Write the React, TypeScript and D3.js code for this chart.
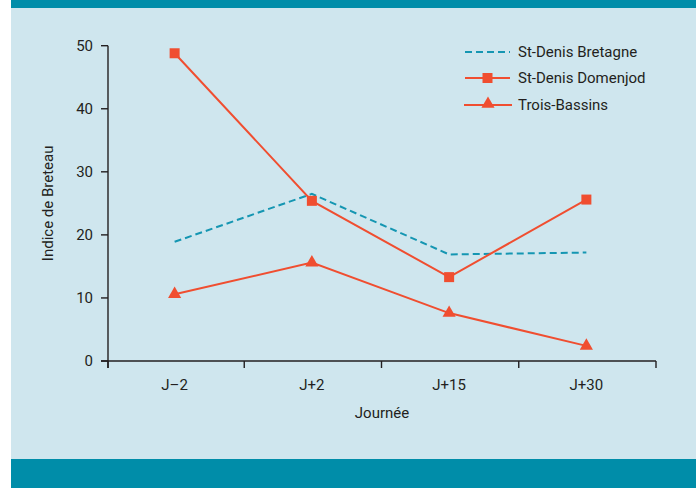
import React from "react";
import * as d3 from "d3";

const categories = ["J–2", "J+2", "J+15", "J+30"];
const bretagne = [18.9, 26.5, 16.9, 17.2];
const domenjod = [48.8, 25.4, 13.3, 25.6];
const troisBassins = [10.6, 15.6, 7.6, 2.4];
const yTicks = [0, 10, 20, 30, 40, 50];
const seriesNames = ["St-Denis Bretagne", "St-Denis Domenjod", "Trois-Bassins"];

const W = 696;
const H = 488;
const TEAL = "#008da9";
const DASH = "#1596b2";
const RED = "#f04e30";
const BG = "#cfe6ee";
const FONT = "Roboto, 'Open Sans', sans-serif";
const FS = 15;

export default function App() {
  const x = d3.scaleBand<string>().domain(categories).range([107, 656]);
  const y = d3.scaleLinear().domain([0, 50]).range([361, 45.7]);
  const cx = (c: string) => (x(c) as number) + x.bandwidth() / 2 - 1;
  const line = d3
    .line<number>()
    .x((_, i) => cx(categories[i]))
    .y((d) => y(d));
  const tri = d3.symbol().type(d3.symbolTriangle).size(75)();
  const ticksX = [108, ...categories.slice(1).map((c) => x(c) as number), 656];

  return (
    <svg
      width={W}
      height={H}
      style={{ position: "absolute", left: 0, top: 0 }}
      fontFamily={FONT}
    >
      <rect x={0} y={0} width={W} height={H} fill="#ffffff" />
      <rect x={11} y={0} width={W - 11} height={H} fill={BG} />
      <rect x={11} y={0} width={W - 11} height={8} fill={TEAL} />
      <rect x={11} y={459} width={W - 11} height={H - 459} fill={TEAL} />

      {/* axes */}
      <line x1={108} x2={108} y1={y(50)} y2={368} stroke="#231f20" strokeWidth={1.4} />
      <line x1={101} x2={656} y1={361} y2={361} stroke="#231f20" strokeWidth={1.4} />
      {yTicks.map((t) => (
        <g key={t}>
          <line x1={101} x2={108} y1={y(t)} y2={y(t)} stroke="#231f20" strokeWidth={1.4} />
          <text x={93} y={y(t)} dy="0.35em" textAnchor="end" fontSize={FS} fill="#231f20">
            {t}
          </text>
        </g>
      ))}
      {ticksX.map((t, i) => (
        <line key={i} x1={t} x2={t} y1={361} y2={368} stroke="#231f20" strokeWidth={1.4} />
      ))}
      {categories.map((c) => (
        <text key={c} x={cx(c)} y={390} textAnchor="middle" fontSize={FS} fill="#231f20">
          {c}
        </text>
      ))}
      <text x={382} y={418} textAnchor="middle" fontSize={FS} fill="#231f20">
        Journée
      </text>
      <text
        transform={`translate(53,${y(25)}) rotate(-90)`}
        textAnchor="middle"
        fontSize={FS}
        fill="#231f20"
      >
        Indice de Breteau
      </text>

      {/* series */}
      <path d={line(bretagne) || ""} fill="none" stroke={DASH} strokeWidth={2} strokeDasharray="7,4" />
      <path d={line(domenjod) || ""} fill="none" stroke={RED} strokeWidth={2} />
      <path d={line(troisBassins) || ""} fill="none" stroke={RED} strokeWidth={2} />
      {domenjod.map((v, i) => (
        <rect key={i} x={cx(categories[i]) - 5} y={y(v) - 5} width={10} height={10} fill={RED} />
      ))}
      {troisBassins.map((v, i) => (
        <path key={i} d={tri || ""} transform={`translate(${cx(categories[i])},${y(v)})`} fill={RED} />
      ))}

      {/* legend */}
      <g>
        <line x1={465} x2={510} y1={52} y2={52} stroke={DASH} strokeWidth={2} strokeDasharray="7,4" />
        <text x={518} y={52} dy="0.35em" fontSize={FS} fill="#231f20">{seriesNames[0]}</text>
        <line x1={465} x2={510} y1={78} y2={78} stroke={RED} strokeWidth={2} />
        <rect x={482.5} y={73} width={10} height={10} fill={RED} />
        <text x={518} y={78} dy="0.35em" fontSize={FS} fill="#231f20">{seriesNames[1]}</text>
        <line x1={464} x2={512} y1={105} y2={105} stroke={RED} strokeWidth={2} />
        <path d={tri || ""} transform={`translate(488,104)`} fill={RED} />
        <text x={518} y={105} dy="0.35em" fontSize={FS} fill="#231f20">{seriesNames[2]}</text>
      </g>
    </svg>
  );
}
